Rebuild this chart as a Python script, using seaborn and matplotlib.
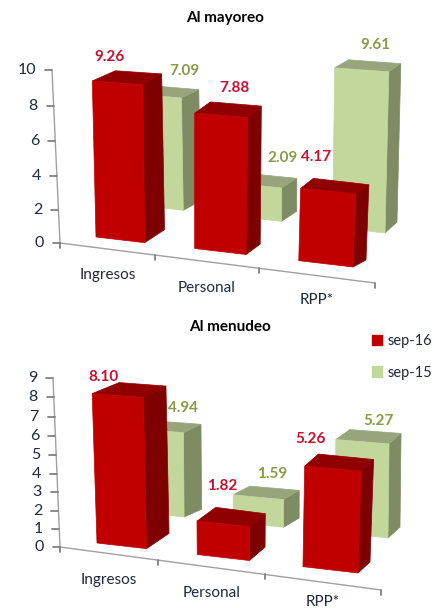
import numpy as np
import pandas as pd
import matplotlib
matplotlib.use('Agg')
import matplotlib.pyplot as plt
import seaborn as sns
from matplotlib.patches import Polygon, Patch
from matplotlib.transforms import Transform, IdentityTransform

categorias = ['Ingresos', 'Personal', 'RPP*']
periodos = ['sep-16', 'sep-15']
mayoreo_16 = [9.26, 7.88, 4.17]
mayoreo_15 = [7.09, 2.09, 9.61]
menudeo_16 = [8.10, 1.82, 5.26]
menudeo_15 = [4.94, 1.59, 5.27]

W, H = 434, 608
ROJO = {'front': '#C00000', 'side': '#7F0000', 'top': '#900000', 'text': '#C8102E'}
VERDE = {'front': '#C3D69B', 'side': '#7E8B63', 'top': '#98A57C', 'text': '#8B9A46'}
TINTA = '#1F2A3A'

# esquinas de cada plano en pixeles: (c=-.25,v=0) (c=2.25,v=0) (c=-.25,v=10) (c=2.25,v=10)
LAYOUT = {
    'mayoreo': dict(
        title=('Al mayoreo', 225, 18), vmax=10, vstep=2,
        wall=[(60, 243), (375, 283), (52, 70), (383, 83)],
        red=[(96, 237), (353, 267), (92, 68), (360, 87)],
        red_d=[(24, -14), (13, -7), (23, -10), (13, -13)],
        green=[(136, 205), (385, 233), (132, 47), (389, 65)],
        green_d=[(18, -9), (12, -11), (18, -8), (12, -8)],
        off_red=[(17, -24), (40, -25), (15, -31)],
        off_green=[(51, -23), (51, -25), (41, -23)],
        off_cat=[-26, -26, -25],
    ),
    'menudeo': dict(
        title=('Al menudeo', 230, 327), vmax=9, vstep=1,
        wall=[(60, 547), (381, 590), (53, 378), (388, 400)],
        red=[(97, 543), (358, 573), (91, 357), (364, 375)],
        red_d=[(27, -16), (12, -11), (27, -10), (13, -13)],
        green=[(136, 512), (388, 538), (134, 342), (390, 358)],
        green_d=[(18, -7), (12, -11), (18, -9), (12, -10)],
        off_red=[(11, -17), (25, -35), (6, -27)],
        off_green=[(48, -21), (39, -21), (43, -19)],
        off_cat=[-27, -26, -20],
    ),
}


class Plano(Transform):
    input_dims = output_dims = 2
    is_affine = False

    def __init__(self, src, dst):
        super().__init__()
        A, b = [], []
        for (x, y), (u, v) in zip(src, dst):
            v = H - v
            A.append([x, y, 1, 0, 0, 0, -u * x, -u * y])
            A.append([0, 0, 0, x, y, 1, -v * x, -v * y])
            b += [u, v]
        self.m = np.append(np.linalg.solve(np.array(A, float), np.array(b, float)), 1).reshape(3, 3)

    def transform_non_affine(self, values):
        p = np.c_[values, np.ones(len(values))] @ self.m.T
        return p[:, :2] / p[:, 2:]


def caja(ax, rect, front, back, color, z):
    x0, x1, v = rect.get_x(), rect.get_x() + rect.get_width(), rect.get_height()
    lado = np.vstack([front.transform([(x1, 0), (x1, v)]), back.transform([(x1, v), (x1, 0)])])
    tapa = np.vstack([front.transform([(x0, v), (x1, v)]), back.transform([(x1, v), (x0, v)])])
    ident = IdentityTransform()
    ax.add_patch(Polygon(lado, color=color['side'], transform=ident, zorder=z, lw=0.5, clip_on=False))
    ax.add_patch(Polygon(tapa, color=color['top'], transform=ident, zorder=z, lw=0.5, clip_on=False))
    rect.set_transform(front)
    rect.set_edgecolor(color['front'])
    rect.set_linewidth(0.5)
    rect.set_zorder(z + 0.1)
    rect.set_clip_on(False)


def panel(ax, valores_16, valores_15, cfg):
    df = pd.DataFrame({
        'categoria': categorias * 2,
        'periodo': [periodos[0]] * 3 + [periodos[1]] * 3,
        'valor': valores_16 + valores_15,
    })
    sns.barplot(data=df, x='categoria', y='valor', hue='periodo', hue_order=periodos,
                palette=[ROJO['front'], VERDE['front']], dodge=False, width=0.5,
                saturation=1, legend=False, ax=ax)
    ident = IdentityTransform()
    src = [(-.25, 0), (2.25, 0), (-.25, 10), (2.25, 10)]
    series = [(ax.containers[0], cfg['red'], cfg['red_d'], ROJO, 4, cfg['off_red']),
              (ax.containers[1], cfg['green'], cfg['green_d'], VERDE, 2, cfg['off_green'])]
    for cont, pts, delta, color, z, offs in series:
        front = Plano(src, pts)
        back = Plano(src, [(p[0] + d[0], p[1] + d[1]) for p, d in zip(pts, delta)])
        for rect, off in zip(cont.patches, offs):
            caja(ax, rect, front, back, color, z)
            px, py = front.transform([(rect.get_x(), rect.get_height())])[0]
            ax.text(px + off[0], py - off[1], f'{rect.get_height():.2f}', transform=ident, color=color['text'],
                    fontsize=11, fontweight='bold', ha='center', va='center', zorder=8, clip_on=False)

    # ejes a mano sobre la pared inclinada
    vmax = cfg['vmax']
    wall = Plano([(-.5, 0), (2.5, 0), (-.5, vmax), (2.5, vmax)], cfg['wall'])
    ax.plot([-.5, -.5], [0, vmax], color='#A0A0A0', lw=1, transform=wall, clip_on=False, zorder=1)
    ax.plot([-.5, 2.5], [0, 0], color='#A0A0A0', lw=1, transform=wall, clip_on=False, zorder=1)
    for v in range(0, vmax + 1, cfg['vstep']):
        px, py = wall.transform([(-.5, v)])[0]
        ax.plot([px - 7, px], [py, py], color='#808080', lw=1.3, transform=ident, clip_on=False, zorder=1)
        ax.text(px - 16, py, str(v), transform=ident, ha='right', va='center', fontsize=11.5,
                color=TINTA, clip_on=False)
    for c in [-.5, .5, 1.5, 2.5]:
        px, py = wall.transform([(c, 0)])[0]
        ax.plot([px, px], [py, py - 5], color='#808080', lw=1.3, transform=ident, clip_on=False, zorder=1)
    for i, cat in enumerate(categorias):
        px, py = wall.transform([(i, 0)])[0]
        ax.text(px + 1, py + cfg['off_cat'][i], cat, transform=ident, ha='center', va='center', fontsize=11,
                color=TINTA, clip_on=False)
    txt, tx, ty = cfg['title']
    ax.text(tx, H - ty, txt, transform=ident, ha='center', va='center', fontsize=11,
            fontweight='bold', color='black', clip_on=False)
    ax.set_axis_off()


sns.set_theme(style='white')
plt.rcParams['font.family'] = ['Lato', 'DejaVu Sans']

fig = plt.figure(figsize=(W / 100, H / 100), dpi=100)
ax1 = fig.add_axes([0, 0.5, 1, 0.5])
ax2 = fig.add_axes([0, 0, 1, 0.5])
panel(ax1, mayoreo_16, mayoreo_15, LAYOUT['mayoreo'])
panel(ax2, menudeo_16, menudeo_15, LAYOUT['menudeo'])

handles = [Patch(color=ROJO['front']), Patch(color=VERDE['front'])]
fig.legend(handles, periodos, loc='upper left', bbox_to_anchor=(372 / W, 1 - 334 / H), frameon=False,
           handlelength=0.7, handleheight=0.7, handletextpad=0.35, labelspacing=1.2, fontsize=10.5,
           labelcolor=TINTA, borderpad=0, borderaxespad=0)

fig.savefig('out.png', dpi=100)
